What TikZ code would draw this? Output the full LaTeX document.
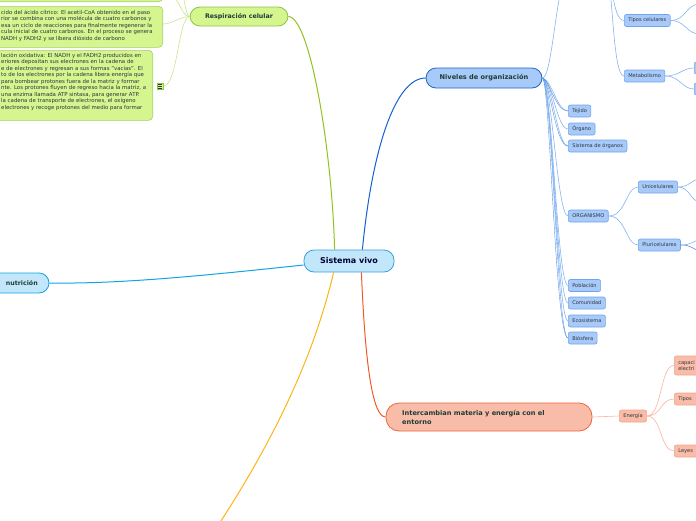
\documentclass[tikz,border=0pt]{standalone}
\usepackage{fontspec}
\setmainfont{DejaVu Sans}
\usetikzlibrary{positioning}
\definecolor{ink}{HTML}{1E3B34}
\definecolor{leafink}{HTML}{2E3440}
\definecolor{skyfill}{HTML}{C3E7FA}
\definecolor{skydraw}{HTML}{3A9FE0}
\definecolor{cyanln}{HTML}{12A3E3}
\definecolor{limefill}{HTML}{D5F58F}
\definecolor{limedraw}{HTML}{8CC63F}
\definecolor{limeln}{HTML}{8FC31F}
\definecolor{limelt}{HTML}{C6E58E}
\definecolor{bluefill}{HTML}{A8CAF8}
\definecolor{bluedraw}{HTML}{1F66CC}
\definecolor{leafdraw}{HTML}{6FA5EF}
\definecolor{blueln}{HTML}{1461CF}
\definecolor{bluelt}{HTML}{86B4F0}
\definecolor{salfill}{HTML}{F9BCA8}
\definecolor{saldraw}{HTML}{F0643A}
\definecolor{salleaf}{HTML}{F7A488}
\definecolor{salln}{HTML}{F05A2A}
\definecolor{sallt}{HTML}{F9B59E}
\definecolor{orangeln}{HTML}{FBB416}

\begin{document}
\begin{tikzpicture}[x=1pt, y=-1pt,
  every node/.style={inner sep=0pt, text=ink},
  pill/.style={rectangle, rounded corners=10pt, line width=0.8pt},
  root/.style={pill, draw=skydraw, fill=skyfill, text=black!80!blue,
               font=\fontsize{8}{9}\selectfont\bfseries,
               minimum width=90pt, minimum height=22pt},
  topic/.style={pill, font=\fontsize{6.6}{8}\selectfont\bfseries},
  leaf/.style={rectangle, rounded corners=2pt, line width=0.6pt,
               draw=leafdraw, fill=bluefill, text=leafink,
               font=\fontsize{5.1}{6}\selectfont, minimum height=12pt,
               inner xsep=4pt},
  salleaf/.style={leaf, draw=salleaf, fill=salfill},
  notebox/.style={rectangle, rounded corners=4pt, line width=0.6pt,
                  draw=limedraw!80, fill=limefill},
  notetext/.style={align=left, text=leafink,
                   font=\fontsize{5.4}{6.5}\selectfont},
  ln/.style={line width=0.6pt}
]
\useasboundingbox (0,0) rectangle (696,520);

% main topic
\node[root] (vivo) at (349,261) {Sistema vivo};

\node[topic, draw=bluedraw, fill=bluefill, minimum width=116pt,
      minimum height=20pt] (niveles) at (484,78) {Niveles de organización};
\node[topic, draw=limedraw, fill=limefill, minimum width=98pt,
      minimum height=19pt, font=\fontsize{6.3}{8}\selectfont\bfseries]
      (resp) at (239,16.5) {Respiración celular};
\node[pill, draw=cyanln, fill=skyfill, minimum width=110pt, minimum height=20pt]
      (nutri) at (-6,283) {};
\node[anchor=east, font=\fontsize{6.3}{8}\selectfont\bfseries] (nutritxt)
      at (38,283.5) {nutrición};
\node[pill, draw=saldraw, fill=salfill, rounded corners=13pt,
      minimum width=206pt, minimum height=28pt] (inter) at (489,417) {};
\node[anchor=west, align=left, font=\fontsize{6.6}{9}\selectfont\bfseries]
      (intertxt) at (402,417) {Intercambian materia y energía con el\\entorno};

% respiracion: notes
\node[notebox, minimum width=200pt, minimum height=42pt, anchor=south east]
      (note0) at (163,2) {};
\node[notebox, minimum width=190pt, minimum height=41pt, anchor=north east]
      (note1) at (163,6) {};
\node[notetext, anchor=north west] (note1txt) at (1,9.5)
  {cido del ácido cítrico: El acetil-CoA obtenido en el paso\\%
rior se combina con una molécula de cuatro carbonos y\\%
esa un ciclo de reacciones para finalmente regenerar la\\%
cula inicial de cuatro carbonos. En el proceso se genera\\%
NADH y FADH2 y se libera dióxido de carbono};
\node[notebox, minimum width=180pt, minimum height=70pt, anchor=north east]
      (note2) at (153,50) {};
\node[notetext, anchor=north west] (note2txt) at (1,52.5)
  {lación oxidativa: El NADH y el FADH2 producidos en\\%
eriores depositan sus electrones en la cadena de\\%
e de electrones y regresan a sus formas "vacías". El\\%
to de los electrones por la cadena libera energía que\\%
para bombear protones fuera de la matriz y formar\\%
nte. Los protones fluyen de regreso hacia la matriz, a\\%
una enzima llamada ATP sintasa, para generar ATP.\\%
la cadena de transporte de electrones, el oxígeno\\%
electrones y recoge protones del medio para formar};
\node[rectangle, draw=limedraw, fill=limefill, line width=0.4pt,
      minimum size=6pt] (icon) at (160,86) {};
\draw[leafink, line width=0.5pt] (158,84) -- (162,84) (158,86) -- (162,86)
  (158,88) -- (162,88);

% niveles: leaves
\node[leaf, anchor=west] (tipos) at (624,20.5) {Tipos celulares};
\node[leaf, anchor=west] (metab) at (624,76) {Metabolismo};
\node[leaf, anchor=west] (tejido) at (568,111) {Tejido};
\node[leaf, anchor=west] (organo) at (568,129) {Órgano};
\node[leaf, anchor=west] (sistorg) at (568,146) {Sistema de órganos};
\node[leaf, anchor=west] (organismo) at (568,216) {ORGANISMO};
\node[leaf, anchor=west] (uni) at (638,187) {Unicelulares};
\node[leaf, anchor=west] (pluri) at (638,245) {Pluricelulares};
\node[leaf, anchor=west] (pobl) at (568,285.5) {Población};
\node[leaf, anchor=west] (comun) at (568,303) {Comunidad};
\node[leaf, anchor=west] (ecos) at (568,321) {Ecosistema};
\node[leaf, anchor=west] (bios) at (568,338) {Biósfera};
\node[leaf, anchor=west, minimum width=20pt] (metab1) at (694,68) {};
\node[leaf, anchor=west, minimum width=20pt] (metab2) at (694,89) {};

% energia
\node[salleaf, anchor=west] (energia) at (619,416) {Energía};
\node[salleaf, anchor=west, align=left, minimum height=19pt, minimum width=40pt,
      text width=32pt] (capac) at (674,365.5) {capaci\\electri};
\node[salleaf, anchor=west, minimum width=40pt, text width=32pt, align=left]
      (tiposen) at (674,399) {Tipos};
\node[salleaf, anchor=west, minimum width=40pt, text width=32pt, align=left]
      (leyes) at (674,451) {Leyes};

% off-page ends
\coordinate (celw) at (566,-25);
\coordinate (cele) at (606,-25);
\coordinate (resptop1) at (163,-8);
\coordinate (resptop2) at (163,-40);
\coordinate (bottom) at (205,545);

% main connectors
\draw[limeln, line width=1pt] ([xshift=31pt]vivo.north west)
  .. controls (332,150) and (310,17) .. (resp.east);
\draw[blueln, line width=1pt] ([xshift=-32pt]vivo.north east)
  .. controls (372,150) and (395,78) .. (niveles.west);
\draw[cyanln, line width=1pt] ([yshift=-4pt]vivo.west)
  .. controls (200,276) and (120,284) .. (nutri.east);
\draw[orangeln, line width=1pt] ([xshift=30pt]vivo.south west)
  .. controls (320,330) and (290,420) .. (bottom);
\draw[salln, line width=1pt] ([xshift=-33pt]vivo.south east)
  .. controls (365,360) and (372,417) .. (inter.west);

% respiracion connectors
\draw[limelt, ln] (resp.west) .. controls (179,17) and (172,24) .. (163,24);
\draw[limelt, ln] (resp.west) .. controls (178,17) and (178,86) .. (icon.east);
\draw[limelt, ln] (resp.west) .. controls (180,17) and (180,-8) .. (resptop1);
\draw[limelt, ln] (resp.west) .. controls (183,17) and (184,-40) .. (resptop2);

% niveles connectors
\draw[bluelt, ln] (niveles.east) .. controls (552,78) and (556,-10) .. (celw);
\foreach \n in {tejido,organo,sistorg,organismo,pobl,comun,ecos,bios}
  \draw[bluelt, ln] (niveles.east) .. controls (552,80)
    and ([xshift=-11pt]\n.west) .. (\n.west);
\foreach \n in {tejido,sistorg,bios}
  \draw[blueln!70, line width=0.4pt] (niveles.east) .. controls (550,80)
    and ([xshift=-13pt]\n.west) .. (\n.west);
\foreach \n in {tipos,metab}
  \draw[bluelt, ln] (cele) .. controls (613,-25)
    and ([xshift=-12pt]\n.west) .. (\n.west);
\foreach \n in {uni,pluri}
  \draw[bluelt, ln] (organismo.east) .. controls (626,216)
    and ([xshift=-12pt]\n.west) .. (\n.west);
\draw[bluelt, ln] (tipos.east) .. controls (686,20.5) and (686,4) .. (700,4);
\draw[bluelt, ln] (tipos.east) .. controls (686,20.5) and (686,34) .. (700,34);
\draw[bluelt, ln] (metab.east) .. controls (680,76) and (682,68) .. (metab1.west);
\draw[bluelt, ln] (metab.east) .. controls (680,76) and (682,89) .. (metab2.west);
\draw[bluelt, ln] (uni.east) .. controls (690,187) and (690,180) .. (700,179);
\draw[bluelt, ln] (uni.east) .. controls (690,187) and (690,201) .. (700,202);
\draw[bluelt, ln] (pluri.east) .. controls (692,245) and (692,241) .. (700,240);
\draw[blueln!70, ln] (pluri.east) .. controls (692,245) and (692,249) .. (700,251);

% energia connectors
\draw[sallt, ln] (inter.east) -- (energia.west);
\foreach \n in {capac,tiposen,leyes}
  \draw[sallt, ln] (energia.east) .. controls (662,416)
    and ([xshift=-14pt]\n.west) .. (\n.west);
\end{tikzpicture}
\end{document}
